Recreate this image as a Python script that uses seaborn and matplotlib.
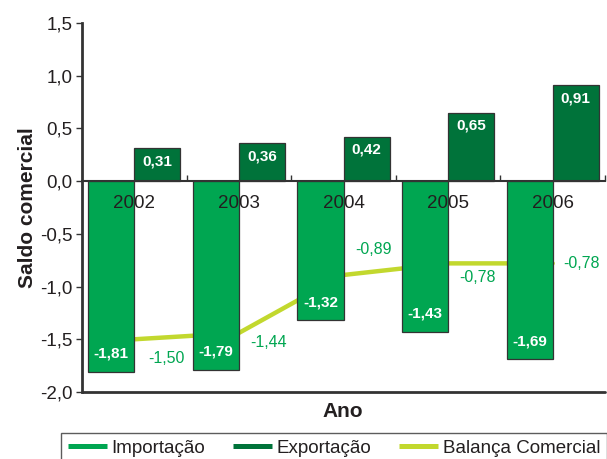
import matplotlib
matplotlib.use("Agg")
import matplotlib.pyplot as plt
from matplotlib.lines import Line2D
from matplotlib.ticker import FixedLocator, FuncFormatter
import numpy as np
import pandas as pd
import seaborn as sns

# ---- data ----
anos = ["2002", "2003", "2004", "2005", "2006"]
importacao = [-1.81, -1.79, -1.32, -1.43, -1.69]
exportacao = [0.31, 0.36, 0.42, 0.65, 0.91]
balanca = [-1.50, -1.44, -0.89, -0.78, -0.78]
series_names = ["Importação", "Exportação", "Balança Comercial"]

# label offsets (pixels) for the Balança labels
bal_offsets = [(32, -19), (30, -10), (30, 25), (29, -14), (29, 0)]

C_IMP = "#00A651"
C_EXP = "#00733A"
C_BAL = "#C2D82E"
C_TXT = "#231F20"
C_AX = "#333333"

sns.set_style("white")
plt.rcParams["font.family"] = ["Liberation Sans", "DejaVu Sans"]

df = pd.DataFrame({
    "Ano": anos * 2,
    "Valor": importacao + exportacao,
    "Serie": [series_names[0]] * len(anos) + [series_names[1]] * len(anos),
})

fig = plt.figure(figsize=(6.07, 4.59), dpi=100)
ax = fig.add_axes([82 / 607, 1 - 392 / 459, 523 / 607, 369 / 459])

sns.barplot(data=df, x="Ano", y="Valor", hue="Serie", order=anos,
            hue_order=series_names[:2], palette=[C_IMP, C_EXP],
            saturation=1, width=0.88, edgecolor=C_AX, linewidth=0.9,
            legend=False, ax=ax)
for p in ax.patches:
    p.set_zorder(2)

sns.lineplot(x=np.arange(len(anos)), y=balanca, color=C_BAL, linewidth=3.2,
             ax=ax, zorder=1.5, legend=False)

# bar value labels
for cont in ax.containers:
    for bar in cont:
        h = bar.get_height()
        xc = bar.get_x() + bar.get_width() / 2
        dy = -13 if h > 0 else 18
        ax.annotate(f"{h:.2f}".replace(".", ","), (xc, h), xytext=(0, dy),
                    textcoords="offset pixels", ha="center", va="center",
                    color="white", fontsize=11, fontweight="bold", zorder=5)

# balança labels
for i, (v, off) in enumerate(zip(balanca, bal_offsets)):
    ax.annotate(f"{v:.2f}".replace(".", ","), (i, v), xytext=off,
                textcoords="offset pixels", ha="center", va="center",
                color=C_IMP, fontsize=11.5, zorder=5)

ax.set_axisbelow(False)
ax.set_xlim(-0.5, len(anos) - 0.5)
ax.set_ylim(-2.0, 1.5)
ax.set_yticks(np.arange(-2.0, 1.51, 0.5))
ax.yaxis.set_major_formatter(FuncFormatter(lambda v, p: f"{v:.1f}".replace(".", ",")))
ax.tick_params(axis="y", direction="out", length=4, width=1, color=C_AX,
               labelsize=13.5, labelcolor=C_TXT, pad=3, left=True)

# x axis at zero
ax.spines["bottom"].set_position(("data", 0))
ax.spines["bottom"].set_color(C_AX)
ax.spines["bottom"].set_linewidth(1.5)
ax.spines["left"].set_color(C_AX)
ax.spines["left"].set_linewidth(2)
ax.spines["top"].set_visible(False)
ax.spines["right"].set_visible(False)
ax.axhline(-2.0, color=C_AX, linewidth=2, clip_on=False, zorder=3)

ax.xaxis.set_major_locator(FixedLocator(np.arange(len(anos)) + 0.5))
ax.xaxis.set_major_formatter(FuncFormatter(lambda v, p: ""))
ax.xaxis.set_minor_locator(FixedLocator(np.arange(len(anos))))
ax.xaxis.set_minor_formatter(FuncFormatter(lambda v, p: anos[int(round(v))]))
ax.tick_params(axis="x", which="major", direction="in", length=4, width=1,
               color=C_AX, bottom=True)
ax.tick_params(axis="x", which="minor", length=0, pad=10, labelsize=13.5,
               labelcolor=C_TXT, bottom=True)

ax.set_xlabel("Ano", fontsize=15, fontweight="bold", color=C_TXT)
ax.xaxis.label.set_va("center")
ax.xaxis.set_label_coords(0.499, -0.0515)
ax.set_ylabel("Saldo comercial", fontsize=15, fontweight="bold", color=C_TXT)
ax.yaxis.label.set_va("center")
ax.yaxis.set_label_coords(-0.105, 0.501)

handles = [Line2D([], [], color=c, linewidth=3.6, solid_capstyle="butt")
           for c in (C_IMP, C_EXP, C_BAL)]
leg = fig.legend(handles, series_names, loc="upper left",
                 bbox_to_anchor=(61 / 607, 1 - 433 / 459), borderaxespad=0,
                 ncol=3, fontsize=13.5, frameon=True, fancybox=False,
                 handlelength=2.1, handletextpad=0.25, columnspacing=1.45,
                 borderpad=0.35)
leg.get_frame().set_edgecolor(C_AX)
leg.get_frame().set_linewidth(1)
for t in leg.get_texts():
    t.set_color(C_TXT)

fig.savefig("out.png", dpi=100)
